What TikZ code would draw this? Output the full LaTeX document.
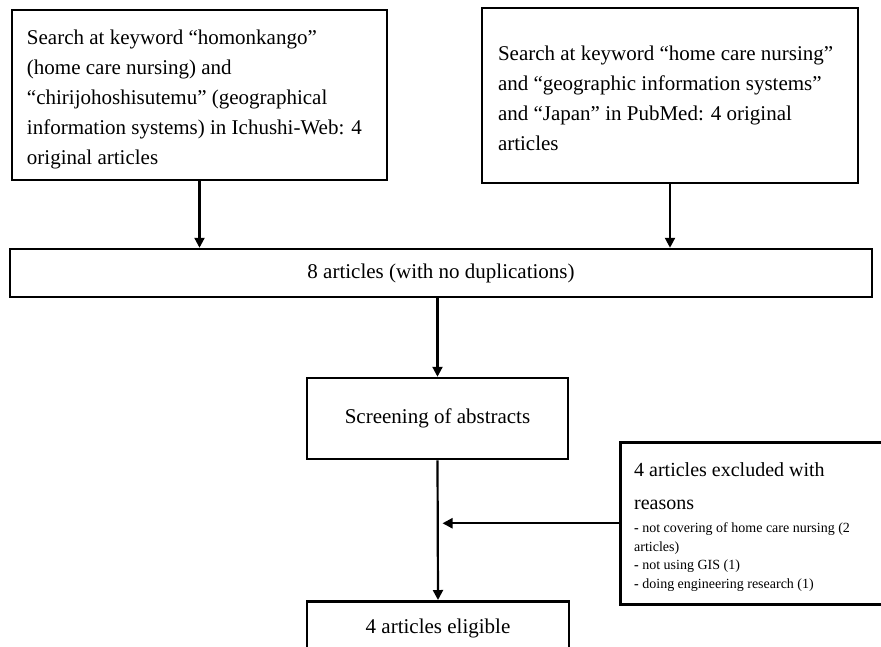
\documentclass[tikz,border=0pt]{standalone}
\usepackage{fontspec}
\setmainfont{Liberation Serif}
\usetikzlibrary{arrows.meta,calc}
\begin{document}
\begin{tikzpicture}[x=1pt,y=-1pt,
  box/.style={draw, line width=2.5pt, rectangle, inner sep=0pt},
  arr/.style={line width=2.2pt, -{Triangle[length=10pt,width=10pt]}},
  big/.style={font=\fontsize{21}{30}\selectfont}]
\useasboundingbox (0,0) rectangle (881,646);

\node[box, big, minimum width=375pt, minimum height=170pt, text width=345pt, align=flush left] (s1) at (199.5,95)
  {\rule{0pt}{23pt}Search at keyword “homonkango”\\ (home care nursing) and\\ “chirijohoshisutemu” (geographical\\ information systems) in Ichushi-Web: 4\\ original articles};

\node[box, big, minimum width=376pt, minimum height=175pt, text width=344pt, align=flush left] (s2) at (670,95.5)
  {\rule{0pt}{20pt}\mbox{Search at keyword “home care nursing”}\\ and “geographic information systems”\\ and “Japan” in PubMed: 4 original\\ articles};

\node[box, big, minimum width=862pt, minimum height=48pt] (b3) at (441,273) {8 articles (with no duplications)};

\node[box, big, minimum width=261pt, minimum height=81pt] (b4) at (437.5,418.5) {Screening of abstracts};

\node[box, anchor=north west, minimum width=300pt, minimum height=162pt] (ex) at (619,441) {};
\node[anchor=base west, inner sep=0pt, text width=240pt, align=flush left] (extxt) at (634,476)
  {{\fontsize{20}{33}\selectfont 4 articles excluded with\\ reasons\par}
   \vspace{5pt}
   {\fontsize{14}{18.5}\selectfont \textbf{-} not covering of home care nursing (2\\ articles)\\ \textbf{-} not using GIS (1)\\ \textbf{-} doing engineering research (1)\par}};

\node[box, big, anchor=north, minimum width=262pt, text height=15pt, text depth=5pt, inner ysep=17pt] (b6) at (438,600) {4 articles eligible};

\draw[arr] (s1.south) -- (s1.south |- b3.north);
\draw[arr] (s2.south) -- (s2.south |- b3.north);
\draw[arr] (b4.north |- b3.south) -- (b4.north);
\draw[arr] (b4.south) -- (b6.north);
\draw[arr, shorten >=5pt] (ex.west) -- (ex.west -| b4.south);
\end{tikzpicture}
\end{document}
